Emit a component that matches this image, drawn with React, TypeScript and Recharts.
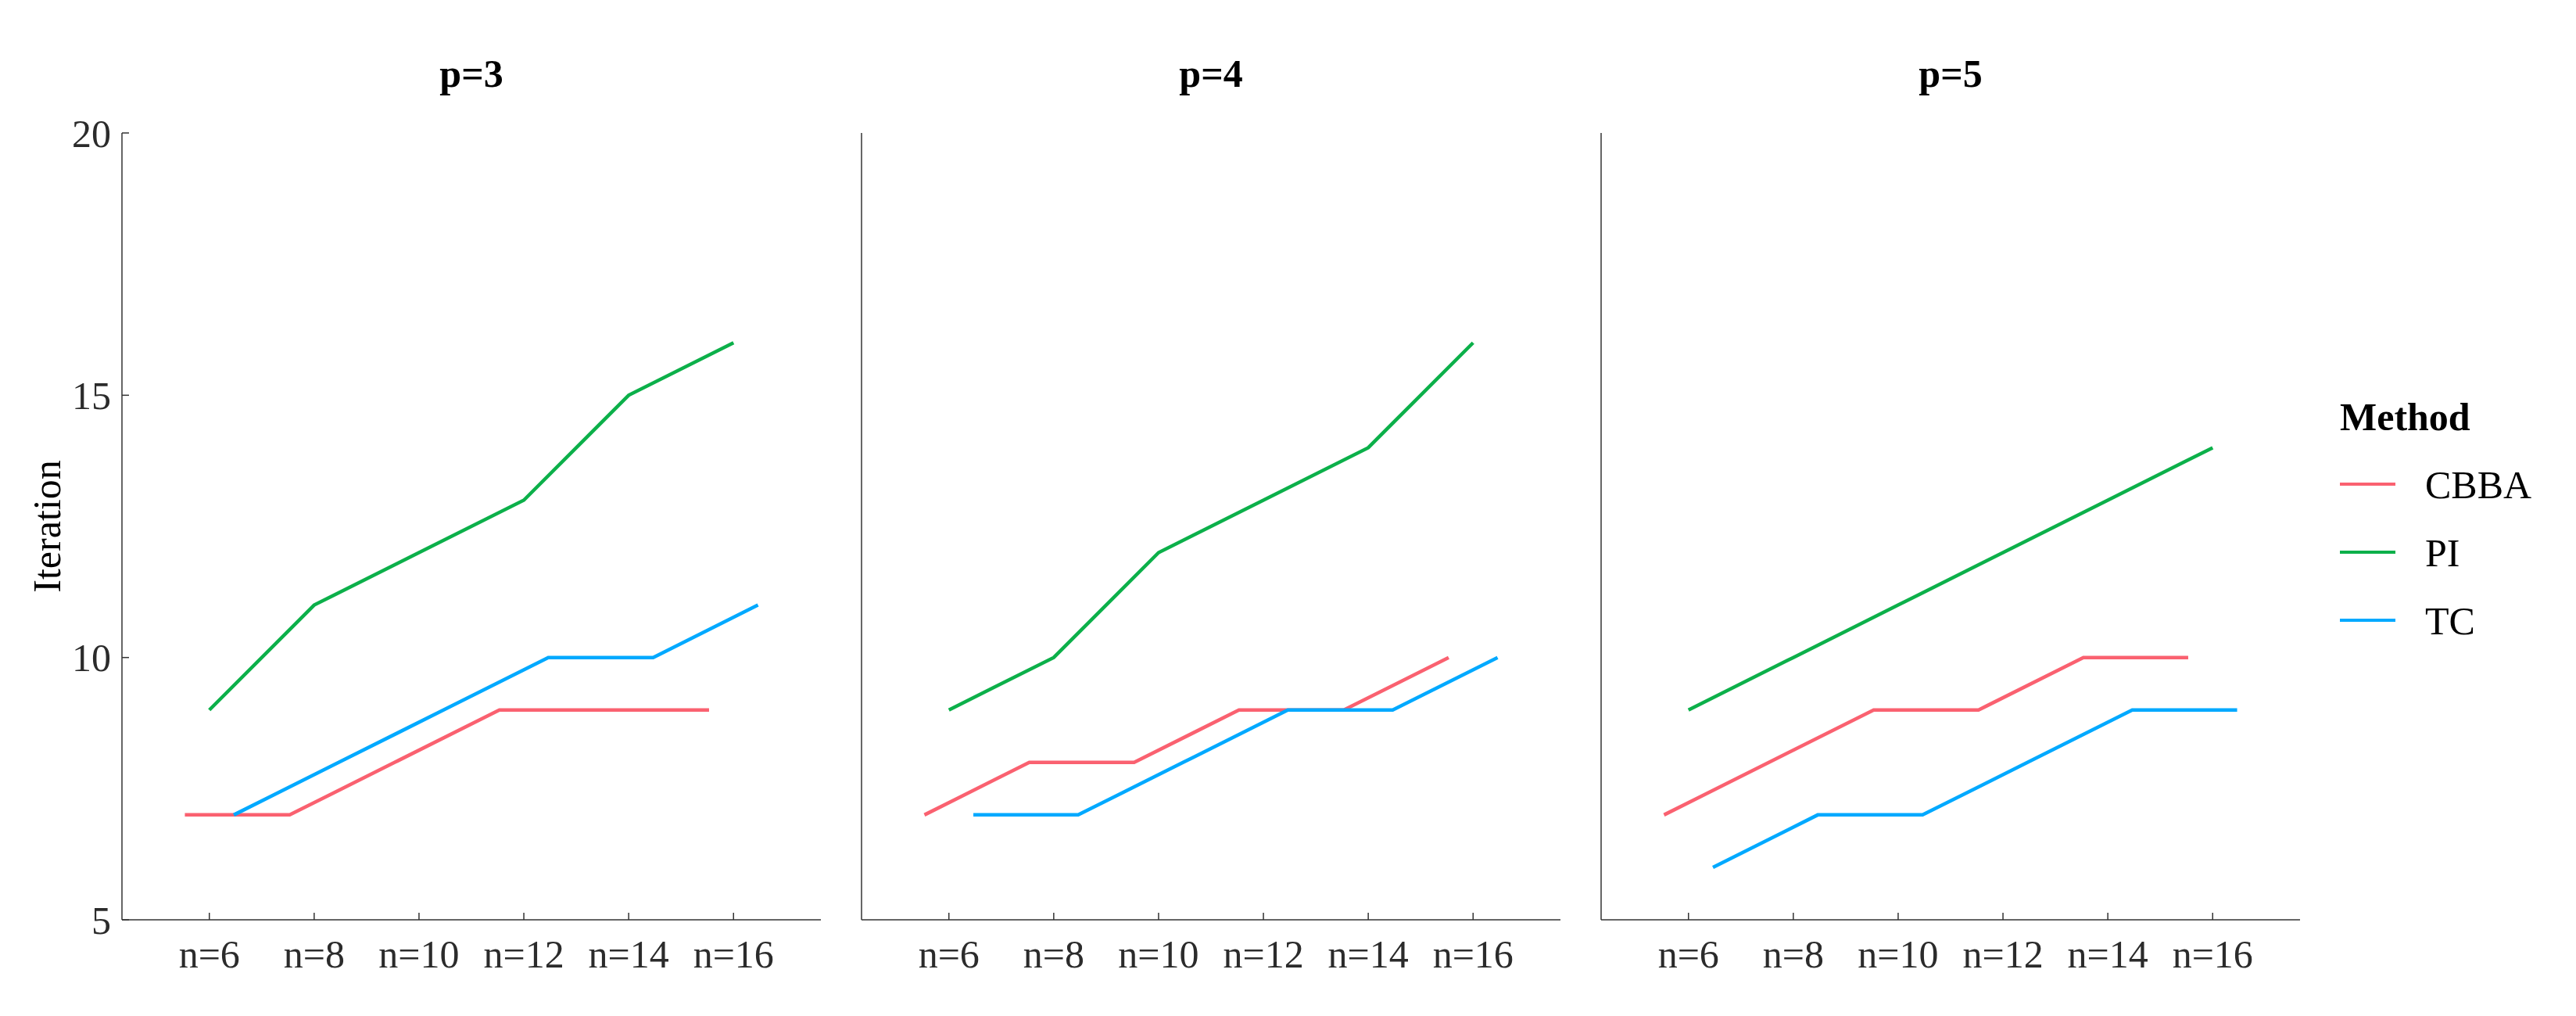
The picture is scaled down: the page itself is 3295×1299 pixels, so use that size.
import { LineChart, Line, XAxis, YAxis } from "recharts";

const categories = ["n=6", "n=8", "n=10", "n=12", "n=14", "n=16"];
const panelTitles = ["p=3", "p=4", "p=5"];
const methods = ["CBBA", "PI", "TC"];

// iterations per panel (p=3, p=4, p=5)
const cbba = [
  [7, 7, 8, 9, 9, 9],
  [7, 8, 8, 9, 9, 10],
  [7, 8, 9, 9, 10, 10],
];
const pi = [
  [9, 11, 12, 13, 15, 16],
  [9, 10, 12, 13, 14, 16],
  [9, 10, 11, 12, 13, 14],
];
const tc = [
  [7, 8, 9, 10, 10, 11],
  [7, 7, 8, 9, 9, 10],
  [6, 7, 7, 8, 9, 9],
];
const yTicks = [5, 10, 15, 20];

const COLORS = ["#FA6170", "#0CB04A", "#00A9FF"];
const FONT = "'Liberation Serif', 'Times New Roman', serif";
const DODGE = 0.7 / 3;
const OFFSETS = [-DODGE, 0, DODGE];

const PLOT_LEFT = [156, 1102, 2048];
const PLOT_W = 894;
const PLOT_TOP = 170;
const H = 1299;
const X_AXIS_H = 123;

const toPoints = (values: number[], offset: number) =>
  values.map((v, i) => ({ x: i + offset, y: v }));

const Panel = ({ idx }: { idx: number }) => {
  const yW = idx === 0 ? 156 : 20;
  const series = [cbba[idx], pi[idx], tc[idx]];
  return (
    <div
      style={{
        position: "absolute",
        left: PLOT_LEFT[idx] - yW,
        top: 0,
      }}>
      <LineChart
        width={yW + PLOT_W + 5}
        height={H}
        margin={{ top: PLOT_TOP, right: 5, bottom: 0, left: 0 }}>
        <XAxis
          type="number"
          dataKey="x"
          domain={[-0.8333, 5.8333]}
          ticks={[0, 1, 2, 3, 4, 5]}
          tickFormatter={(v: number) => categories[v]}
          allowDataOverflow
          height={X_AXIS_H}
          axisLine={{ stroke: "#333", strokeWidth: 1.5 }}
          tickLine={{ stroke: "#333", strokeWidth: 1.5 }}
          tickSize={-9}
          tickMargin={34}
          tick={{ fill: "#2b2b2b", fontSize: 50, fontFamily: FONT }}
        />
        <YAxis
          type="number"
          domain={[5, 20]}
          ticks={yTicks}
          width={yW}
          allowDataOverflow
          axisLine={{ stroke: "#333", strokeWidth: 1.5 }}
          tickLine={{ stroke: "#333", strokeWidth: 1.5 }}
          tickSize={-9}
          tickMargin={23}
          tick={
            idx === 0
              ? { fill: "#2b2b2b", fontSize: 50, fontFamily: FONT }
              : false
          }
        />
        {series.map((vals, s) => (
          <Line
            key={methods[s]}
            data={toPoints(vals, OFFSETS[s])}
            dataKey="y"
            name={methods[s]}
            stroke={COLORS[s]}
            strokeWidth={4.5}
            dot={false}
            activeDot={false}
            isAnimationActive={false}
          />
        ))}
      </LineChart>
    </div>
  );
};

export default function App() {
  return (
    <div
      style={{
        position: "absolute",
        left: 0,
        top: 0,
        width: 3295,
        height: H,
        background: "#fff",
      }}>
      {panelTitles.map((_, i) => (
        <Panel key={i} idx={i} />
      ))}
      <svg
        width={3295}
        height={H}
        style={{ position: "absolute", left: 0, top: 0, pointerEvents: "none" }}>
        {panelTitles.map((t, i) => (
          <text
            key={t}
            x={PLOT_LEFT[i] + PLOT_W / 2}
            y={111}
            textAnchor="middle"
            fontFamily={FONT}
            fontWeight="bold"
            fontSize={50}
            fill="#000">
            {t}
          </text>
        ))}
        <text
          transform="translate(77, 673) rotate(-90)"
          textAnchor="middle"
          fontFamily={FONT}
          fontSize={50}
          fill="#000">
          Iteration
        </text>
        {/* legend */}
        <text
          x={2993}
          y={550}
          fontFamily={FONT}
          fontWeight="bold"
          fontSize={50}
          fill="#000">
          Method
        </text>
        {methods.map((m, i) => (
          <g key={m}>
            <line
              x1={2993}
              x2={3064}
              y1={619 + i * 87}
              y2={619 + i * 87}
              stroke={COLORS[i]}
              strokeWidth={4}
            />
            <text
              x={3102}
              y={637 + i * 87}
              fontFamily={FONT}
              fontSize={50}
              fill="#000">
              {m}
            </text>
          </g>
        ))}
      </svg>
    </div>
  );
}
